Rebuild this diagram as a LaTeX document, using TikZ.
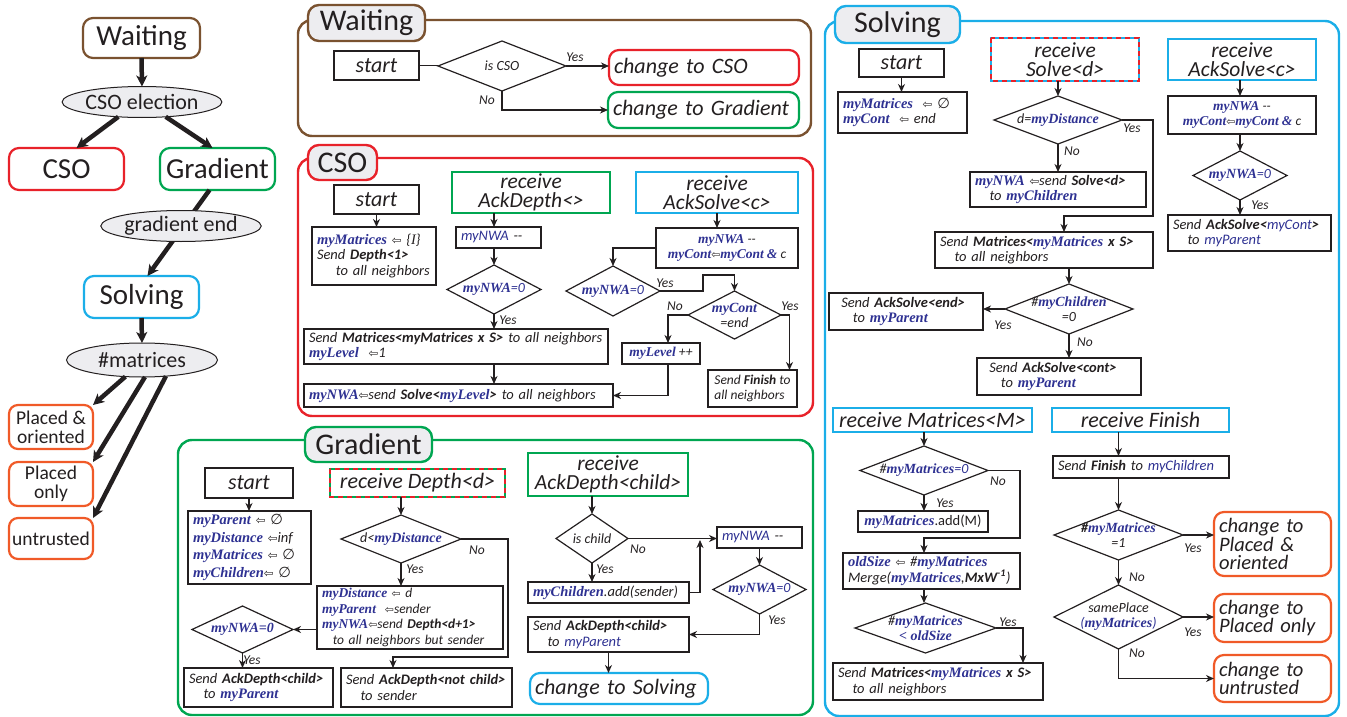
\documentclass[tikz,border=0pt]{standalone}
\usepackage{fontspec}
\usepackage{graphicx}
\setmainfont{Carlito}
\newfontfamily\vf{Liberation Serif}
\newfontfamily\symf{DejaVu Sans}
\usetikzlibrary{shapes.geometric,arrows.meta}
\definecolor{cbrown}{HTML}{7A5230}
\definecolor{cred}{HTML}{E8222A}
\definecolor{cgreen}{HTML}{00A651}
\definecolor{ccyan}{HTML}{1BAEE8}
\definecolor{corange}{HTML}{F05A28}
\definecolor{vblue}{HTML}{2E3192}
\definecolor{tabgray}{HTML}{EDEDF0}
\definecolor{ink}{HTML}{231F20}
\newcommand\V[1]{{\vf\bfseries\itshape\color{vblue}#1}}
\newcommand\Bl[1]{{\color{vblue}#1}}
\newcommand\la{{\symf\scalebox{0.8}{\char"21E6}}}
\newcommand\es{{\symf\char"2205}}
\newcommand\bx[7]{%
  \pgfmathsetmacro\bxw{#5-#3}%
  \pgfmathsetmacro\bxh{#6-#4}%
  \pgfmathsetmacro\bxt{#5-#3-10}%
  \node[#1,minimum width=\bxw pt,minimum height=\bxh pt,text width=\bxt pt] (#2) at ({(#3+#5)/2},{(#4+#6)/2}) {#7};}
\newcommand\cbx[7]{%
  \pgfmathsetmacro\bxw{#5-#3}%
  \pgfmathsetmacro\bxh{#6-#4}%
  \node[#1,minimum width=\bxw pt,minimum height=\bxh pt] (#2) at ({(#3+#5)/2},{(#4+#6)/2}) {#7};}
\newcommand\dm[6]{%
  \pgfmathsetmacro\bxw{#4-#2}%
  \pgfmathsetmacro\bxh{#5-#3}%
  \node[dia,minimum width=\bxw pt,minimum height=\bxh pt] (#1) at ({(#2+#4)/2},{(#3+#5)/2}) {};
  \node[dtext] at (#1.center) {#6};}
\newcommand\dashov[1]{\draw[cred,line width=2pt,dash pattern=on 5pt off 4pt] (#1.north west) rectangle (#1.south east);}
\begin{document}
\begin{tikzpicture}[x=1pt,y=-1pt,
  every node/.style={outer sep=0pt,text=ink},
  panel/.style={line width=2.4pt,rounded corners=14pt},
  tab/.style={rectangle,rounded corners=11pt,line width=2.4pt,fill=tabgray,font=\fontsize{30}{30}\selectfont,inner sep=0pt},
  state/.style={rectangle,rounded corners=10pt,line width=2.2pt,font=\fontsize{29}{29}\selectfont,inner sep=0pt,fill=white},
  obox/.style={rectangle,rounded corners=9pt,draw=corange,line width=2.2pt,font=\fontsize{19.5}{19}\selectfont,align=center,inner sep=0pt},
  ell/.style={ellipse,draw=ink,line width=1pt,fill=tabgray,font=\fontsize{22}{22}\selectfont,inner sep=0pt},
  startbox/.style={rectangle,draw=ink,line width=2pt,font=\fontsize{22}{22}\selectfont\itshape,inner sep=0pt},
  recv/.style={rectangle,line width=2pt,font=\fontsize{21.5}{19.5}\selectfont\itshape,align=center,inner sep=0pt},
  recv1/.style={recv,font=\fontsize{22}{22}\selectfont\itshape},
  box/.style={rectangle,draw=ink,line width=1.2pt,inner xsep=5pt,inner ysep=0pt,font=\fontsize{14.5}{15.5}\selectfont\itshape,align=left},
  sbox/.style={box,font=\fontsize{13.5}{15.5}\selectfont\itshape},
  chg/.style={rectangle,rounded corners=10pt,line width=2.2pt,inner xsep=5pt,inner ysep=0pt,font=\fontsize{22}{22}\selectfont\itshape,align=left},
  chgo/.style={chg,draw=corange,font=\fontsize{20.5}{18.5}\selectfont\itshape},
  dia/.style={diamond,draw=ink,line width=1.2pt,inner sep=0pt},
  dtext/.style={font=\fontsize{14}{15}\selectfont\itshape,align=center,inner sep=0pt},
  lab/.style={font=\fontsize{13.5}{14}\selectfont\itshape,inner sep=0pt},
  ln/.style={draw=ink,line width=1.2pt},
  arr/.style={ln,-{Stealth[length=8pt,width=7pt,inset=2.5pt]}},
  big/.style={draw=ink,line width=4.5pt,-{Stealth[length=11pt,width=11pt,inset=3pt]}}]
\useasboundingbox (0,0) rectangle (1347,717);

% ---------------- left overview ----------------
\cbx{state,draw=cbrown}{lW}{83}{18}{200}{58}{Waiting}
\cbx{state,draw=cred}{lC}{9}{148}{124}{190}{CSO}
\cbx{state,draw=cgreen}{lG}{160}{148}{275}{190}{Gradient}
\cbx{state,draw=ccyan}{lS}{84}{276}{199}{318}{Solving}
\cbx{obox}{lP1}{9}{405}{93}{449}{Placed \&\\oriented}
\cbx{obox}{lP2}{9}{462}{93}{506}{Placed\\only}
\cbx{obox}{lP3}{9}{518}{93}{559}{untrusted}
\node[ell,minimum width=152pt,minimum height=31pt] (lE1) at (142,102) {CSO election};
\node[ell,minimum width=151pt,minimum height=34pt] (lE3) at (142,360) {\#matrices};
\draw[big] (lW.south) -- (lE1.north);
\draw[big] (lE1.212) -- ([xshift=10pt]lC.north);
\draw[big] (lE1.328) -- ([xshift=-5pt]lG.north);
\draw[big] ([xshift=-8pt]lG.south) -- ([xshift=6pt]lS.north);
\node[ell,minimum width=150pt,minimum height=31pt] (lE2) at (181,226) {gradient end};
\draw[big] (lS.south) -- (lE3.north);
\draw[big] (lE3.225) -- (lP1.north east);
\draw[big] (lE3.280) -- (lP2.north east);
\draw[big] (lE3.326) -- (lP3.north east);

% ---------------- Waiting panel ----------------
\draw[panel,draw=cbrown] (298,20) rectangle (811,136);
\cbx{tab,draw=cbrown}{tW}{308}{5}{425}{41}{Waiting}
\cbx{startbox}{wS}{334}{51}{419}{80}{start}
\dm{wD}{438}{41}{566}{91}{is CSO}
\bx{chg,draw=cred}{wC}{609}{50}{799}{85}{change to CSO}
\bx{chg,draw=cgreen}{wG}{608}{92}{799}{128}{change to Gradient}
\draw[ln] (wS.east) -- (wS.east -| wD.west);
\draw[arr] (wD.east) -- (wD.east -| wC.west);
\draw[arr] (wD.south) |- (wG.west);
\node[lab] at (575,57) {Yes};
\node[lab] at (487,100) {No};

% ---------------- CSO panel ----------------
\draw[panel,draw=cred] (298,158) rectangle (813,416);
\cbx{tab,draw=cred}{tC}{308}{145}{377}{180}{CSO}
\cbx{startbox}{cS}{334}{185}{419}{214}{start}
\bx{box}{cI}{312}{227}{436}{285}{\V{myMatrices} \la\ \{{\vf I}\}\\Send \textbf{Depth<1>}\\\hspace*{1.3em}to all neighbors}
\cbx{recv,draw=cgreen}{cR1}{452}{172}{610}{213}{receive\\AckDepth<>}
\bx{box}{cN1}{456}{227}{541}{248}{\Bl{myNWA} -{}-}
\dm{cD1}{447}{265}{541}{314}{\V{myNWA}\Bl{=0}}
\bx{box}{cM}{304}{329}{608}{364}{Send \textbf{Matrices<myMatrices x S>} to all neighbors\\\V{myLevel} \ \la 1}
\bx{box}{cL}{304}{384}{613}{407}{\V{myNWA}\la send \textbf{Solve<}\V{myLevel}\textbf{>} to all neighbors}
\cbx{recv,draw=ccyan}{cR2}{636}{172}{798}{213}{receive\\AckSolve<c>}
\cbx{sbox,align=center}{cB2}{656}{228}{798}{268}{\V{myNWA} -{}-\\\V{myCont}\la\V{myCont} \V{\&} c}
\dm{cD2}{566}{266}{660}{316}{\V{myNWA}\Bl{=0}}
\dm{cD3}{688}{291}{781}{339}{\V{myCont}\\=end}
\cbx{sbox}{cLv}{622}{343}{700}{364}{\V{myLevel} ++}
\cbx{sbox}{cF}{708}{370}{797}{407}{Send \textbf{Finish} to\\all neighbors}
\draw[arr] (cS.south) -- (cS.south |- cI.north);
\draw[arr] (cR1.south -| cD1.north) -- (cN1.north -| cD1.north);
\draw[arr] (cN1.south -| cD1.north) -- (cD1.north);
\draw[arr] (cD1.south) -- (cD1.south |- cM.north);
\draw[arr] (cM.south -| cD1.south) -- (cL.north -| cD1.south);
\draw[arr] (cR2.south) -- (cR2.south |- cB2.north);
\draw[arr] (cB2.west) -| (cD2.north);
\draw[arr] (cD2.east) -- (703,291) -- (703,275) -| (cD3.north);
\draw[arr] (cD3.west) -| ([xshift=7pt]cLv.north);
\draw[arr] ([xshift=7pt]cLv.south) |- (cL.east);
\draw[arr] (cD3.east) -| ([xshift=37pt]cF.north);
\node[lab] at (508,320) {Yes};
\node[lab] at (665,283) {Yes};
\node[lab] at (675,306) {No};
\node[lab] at (790,306) {Yes};

% ---------------- Gradient panel ----------------
\draw[panel,draw=cgreen] (178,440) rectangle (813,715);
\cbx{tab,draw=cgreen}{tG}{305}{427}{432}{462}{Gradient}
\cbx{startbox}{gS}{205}{468}{293}{498}{start}
\bx{box,font=\fontsize{14.5}{17.5}\selectfont\itshape}{gI}{188}{511}{311}{584}{\V{myParent} \la\ \es\\\V{myDistance} \la inf\\\V{myMatrices} \la\ \es\\\V{myChildren}\la\ \es}
\cbx{recv1,draw=cgreen}{gR}{330}{469}{505}{497}{receive Depth<d>}
\dashov{gR}
\dm{gD1}{341}{515}{461}{563}{d<\V{myDistance}}
\bx{sbox}{gB}{317}{586}{503}{649}{\V{myDistance} \la\ d\\\V{myParent} \ \la sender\\\V{myNWA}\la send \textbf{Depth<d+1>}\\\hspace*{0.8em}to all neighbors but sender}
\dm{gD2}{192}{606}{293}{653}{\V{myNWA=0}}
\bx{box}{gA1}{184}{668}{333}{707}{Send \textbf{AckDepth<child>}\\\hspace*{1em}to \V{myParent}}
\bx{box}{gA2}{341}{668}{512}{707}{Send \textbf{AckDepth<not child>}\\\hspace*{1em}to sender}
\cbx{recv,draw=cgreen}{gR2}{528}{453}{688}{496}{receive\\AckDepth<child>}
\dm{gD3}{556}{514}{628}{563}{is child}
\bx{box}{gC}{528}{582}{689}{603}{\V{myChildren}.add(sender)}
\bx{box}{gN}{717}{527}{802}{548}{\Bl{myNWA} -{}-}
\dm{gD4}{713}{565}{806}{614}{\V{myNWA}\Bl{=0}}
\bx{box}{gA3}{528}{617}{689}{652}{Send \textbf{AckDepth<child>}\\\hspace*{1em}to \Bl{myParent}}
\bx{chg,draw=ccyan}{gCS}{530}{673}{708}{704}{change to Solving}
\coordinate (gNo) at (393,657);
\draw[arr] (gS.south) -- (gS.south |- gI.north);
\draw[arr] (gR.south -| gD1.north) -- (gD1.north);
\draw[arr] (gD1.south) -- (gD1.south |- gB.north);
\draw[arr] (gD1.east) -| (508,657) -- (gNo) -- (gNo |- gA2.north);
\draw[arr] (gD2.east -| gB.west) -- (gD2.east);
\draw[arr] (gD2.south) -- (gD2.south |- gA1.north);
\draw[arr] (gR2.south -| gD3.north) -- (gD3.north);
\draw[arr] (gD3.south) -- (gD3.south |- gC.north);
\draw[arr] (gD3.east) -- (gD3.east -| gN.west);
\draw[arr] (gC.east) -| (700,540);
\draw[arr] (gN.south -| gD4.north) -- (gD4.north);
\draw[arr] (gD4.south) |- (gA3.east);
\draw[arr] (gA3.south) -- (gA3.south |- gCS.north);
\node[lab] at (477,550) {No};
\node[lab] at (415,569) {Yes};
\node[lab] at (252,660) {Yes};
\node[lab] at (638,549) {No};
\node[lab] at (605,569) {Yes};
\node[lab] at (777,620) {Yes};

% ---------------- Solving panel ----------------
\draw[panel,draw=ccyan] (825,21) rectangle (1339,716);
\cbx{tab,draw=ccyan}{tS}{835}{6}{960}{43}{Solving}
\cbx{startbox}{sS}{859}{49}{944}{77}{start}
\bx{box}{sI}{838}{92}{967}{133}{\V{myMatrices} \ \la\ \es\\\V{myCont} \ \la\ end}
\cbx{recv,draw=ccyan}{sR}{991}{38}{1139}{81}{receive\\Solve<d>}
\dashov{sR}
\dm{sD}{994}{96}{1122}{144}{d=\V{myDistance}}
\bx{box}{sN}{970}{172}{1146}{207}{\V{myNWA} \la send \textbf{Solve<d>}\\\hspace*{1em}to \V{myChildren}}
\bx{box}{sM}{935}{232}{1153}{268}{Send \textbf{Matrices<}\V{myMatrices}\textbf{ x S>}\\\hspace*{1em}to all neighbors}
\dm{sC}{1005}{284}{1133}{334}{\#\V{myChildren}\\=0}
\bx{box}{sE}{829}{293}{983}{330}{\hspace*{0.5em}Send \textbf{AckSolve<end>}\\\hspace*{1.3em}to \V{myParent}}
\bx{box}{sO}{977}{358}{1141}{395}{\hspace*{0.5em}Send \textbf{AckSolve<cont>}\\\hspace*{1.3em}to \V{myParent}}
\cbx{recv,draw=ccyan}{sR2}{1168}{39}{1316}{80}{receive\\AckSolve<c>}
\cbx{sbox,align=center}{sB}{1168}{96}{1316}{134}{\V{myNWA} -{}-\\\V{myCont}\la\V{myCont} \V{\&} c}
\dm{sD2}{1193}{151}{1287}{200}{\V{myNWA}\Bl{=0}}
\bx{box}{sP}{1168}{215}{1331}{251}{Send \textbf{AckSolve<}\Bl{myCont}\textbf{>}\\\hspace*{1em}to \Bl{myParent}}
\cbx{recv1,draw=ccyan}{sRM}{833}{408}{1032}{432}{receive Matrices<M>}
\dm{sm1}{860}{446}{988}{495}{\#\V{myMatrices}\Bl{=0}}
\cbx{box}{sA}{858}{511}{988}{532}{\V{myMatrices}{\upshape .add(M)}}
\bx{box}{sOld}{843}{553}{1020}{589}{\V{oldSize} \la\ \#\V{myMatrices}\\Merge(\V{myMatrices},\textbf{MxW\textsuperscript{-1}})}
\dm{sm2}{855}{603}{996}{653}{\#\V{myMatrices}\\\V{< oldSize}}
\bx{box}{sS2}{833}{663}{1043}{700}{Send \textbf{Matrices<}\V{myMatrices}\textbf{ x S>}\\\hspace*{1em}to all neighbors}
\cbx{recv1,draw=ccyan}{sRF}{1052}{408}{1229}{432}{receive Finish}
\bx{box}{sF}{1053}{456}{1229}{478}{Send \textbf{Finish} to \Bl{myChildren}}
\dm{sf1}{1054}{510}{1183}{560}{\textbf{\#}\V{myMatrices}\\=1}
\dm{sf2}{1054}{585}{1183}{649}{samePlace\\\Bl{(}\V{myMatrices}\Bl{)}}
\bx{chgo}{sPO}{1214}{512}{1331}{576}{change to\\Placed \&\\oriented}
\bx{chgo}{sPl}{1214}{594}{1331}{642}{change to\\Placed only}
\bx{chgo}{sU}{1214}{655}{1331}{702}{change to\\untrusted}
\draw[arr] (sS.south) -- (sS.south |- sI.north);
\draw[arr] (sR.south -| sD.north) -- (sD.north);
\draw[arr] (sD.south) -- (sD.south |- sN.north);
\draw[arr] (sD.east) -| (1153,216) -| ([xshift=20pt]sM.north);
\draw[arr] (sM.south -| sC.north) -- (sC.north);
\draw[arr] (sC.west) -- (sC.west -| sE.east);
\draw[arr] (sC.south) -- (sC.south |- sO.north);
\draw[arr] (sR2.south -| sD2.north) -- (sB.north -| sD2.north);
\draw[arr] (sB.south -| sD2.north) -- (sD2.north);
\draw[arr] (sD2.south) -- (sD2.south |- sP.north);
\draw[arr] (sRM.south -| sm1.north) -- (sm1.north);
\draw[arr] (sm1.south) -- (sm1.south |- sA.north);
\draw[arr] (sm1.east) -| (1020,538) -| (sOld.north -| sm1.south);
\draw[arr] (sOld.south -| sm1.south) -- (sm2.north -| sm1.south);
\draw[arr] (sm2.east) -| ([xshift=85pt]sS2.north);
\draw[arr] (sRF.south -| sf1.north) -- (sF.north -| sf1.north);
\draw[arr] (sF.south -| sf1.north) -- (sf1.north);
\draw[arr] (sf1.east) -- (sf1.east -| sPO.west);
\draw[arr] (sf1.south) -- (sf2.north);
\draw[arr] (sf2.east) -- (sf2.east -| sPl.west);
\draw[arr] (sf2.south) |- (sU.west);
\node[lab] at (1132,128) {Yes};
\node[lab] at (1072,151) {No};
\node[lab] at (1003,325) {Yes};
\node[lab] at (1085,342) {No};
\node[lab] at (1260,205) {Yes};
\node[lab] at (998,481) {No};
\node[lab] at (945,503) {Yes};
\node[lab] at (1008,622) {Yes};
\node[lab] at (1193,548) {Yes};
\node[lab] at (1137,577) {No};
\node[lab] at (1193,632) {Yes};
\node[lab] at (1137,653) {No};
\end{tikzpicture}
\end{document}
